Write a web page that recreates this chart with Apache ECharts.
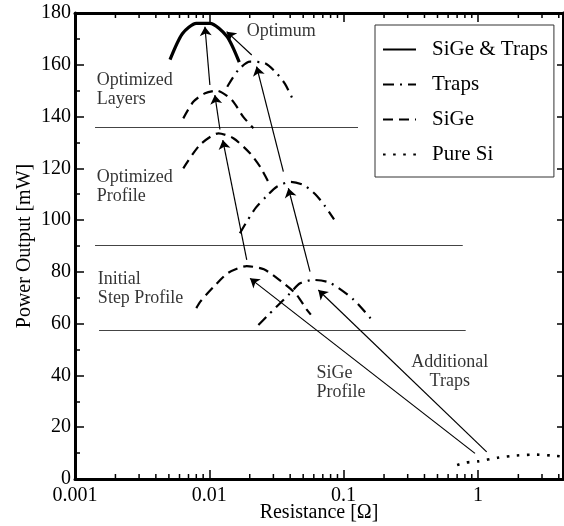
<!DOCTYPE html>
<html>
<head>
<meta charset="utf-8">
<script src="https://cdn.jsdelivr.net/npm/echarts@6/dist/echarts.min.js"></script>
<style>
  html, body { margin: 0; padding: 0; background: #fff; }
  #chart { width: 564px; height: 526px; }
</style>
</head>
<body>
<div id="chart"></div>
<script>
// Resistance in ohms, power output in mW.

// Combined SiGe profile + traps (optimum)
const sigeTrapsR = [0.0051, 0.0063, 0.0080, 0.0101, 0.0135, 0.0167];
const sigeTrapsP = [162, 172, 176, 176, 171, 161];

// Traps only, three design stages
const trapsInitR = [0.0232, 0.0267, 0.0399, 0.0474, 0.0595, 0.079, 0.118, 0.165];
const trapsInitP = [59.5, 62.7, 71.7, 75.6, 76.9, 75.8, 69.4, 61.0];
const trapsProfR = [0.0169, 0.0192, 0.0223, 0.0264, 0.0318, 0.0404, 0.0501, 0.0613, 0.0727, 0.0849];
const trapsProfP = [94.9, 99.8, 104.9, 109.0, 112.9, 114.8, 113.6, 110.1, 105.4, 100.3];
const trapsLayR = [0.0136, 0.01645, 0.0201, 0.0260, 0.0318, 0.0366, 0.0418];
const trapsLayP = [151.5, 158.0, 161.2, 160.6, 156.7, 152.6, 146.7];

// SiGe only, three design stages
const sigeInitR = [0.0080, 0.0086, 0.0108, 0.0138, 0.0190, 0.0255, 0.0345, 0.0441, 0.0530, 0.0570];
const sigeInitP = [66.0, 68.6, 74.3, 79.6, 82.2, 81.0, 76.2, 71.5, 65.5, 63.5];
const sigeProfR = [0.0064, 0.0085, 0.0117, 0.0151, 0.0201, 0.0239, 0.0275];
const sigeProfP = [120.0, 129.0, 133.5, 131.6, 125.8, 120.6, 114.8];
const sigeLayR = [0.0064, 0.0076, 0.0093, 0.01135, 0.0147, 0.0179, 0.0213];
const sigeLayP = [139.3, 145.7, 149.0, 150.0, 146.4, 139.9, 135.5];

// Pure silicon reference
const pureSiR = [0.70, 0.82, 1.00, 1.40, 1.94, 2.74, 3.86, 4.30];
const pureSiP = [5.4, 6.4, 6.8, 8.2, 9.1, 9.4, 8.9, 8.6];

// Stage separators (horizontal rules)
const sepLevel = [135.8, 90.4, 57.6];
const sepFromR = [0.00141, 0.00141, 0.00151];
const sepToR = [0.128, 0.771, 0.811];

// Arrows between design stages: tail -> head
const arrowTailR = [0.0101, 0.0207, 0.0120, 0.0356, 0.0190, 0.0562, 0.951, 1.162];
const arrowTailP = [152.2, 163.8, 135.0, 118.7, 84.6, 80.1, 9.9, 10.5];
const arrowHeadR = [0.00928, 0.01346, 0.0110, 0.0225, 0.0126, 0.0388, 0.0201, 0.0648];
const arrowHeadP = [174.7, 172.8, 148.3, 159.3, 130.9, 112.3, 77.5, 73.0];

// Annotations
const noteText = ['Optimum', 'Optimized\nLayers', 'Optimized\nProfile', 'Initial\nStep Profile', 'SiGe\nProfile', 'Additional\nTraps'];
const noteR = [0.0190, 0.00145, 0.00145, 0.00148, 0.0629, 0.617];
const noteP = [173.0, 150.4, 112.8, 73.6, 37.1, 41.3];
const noteAlign = ['left', 'left', 'left', 'left', 'left', 'center'];

// Axes
const xMin = 0.001, xMax = 4.3;
const yMin = 0, yMax = 180, yStep = 20;
const xMajorTicks = [0.001, 0.01, 0.1, 1];
const xTickLabels = ['0.001', '0.01', '0.1', '1'];
const xMinorTicks = [
  0.002, 0.003, 0.004, 0.005, 0.006, 0.007, 0.008, 0.009,
  0.02, 0.03, 0.04, 0.05, 0.06, 0.07, 0.08, 0.09,
  0.2, 0.3, 0.4, 0.5, 0.6, 0.7, 0.8, 0.9,
  2, 3, 4
];

const FONT = '"Liberation Serif", "Times New Roman", serif';
const zip = (a, b) => a.map((v, i) => [v, b[i]]);

const solid = { color: '#000', width: 3.2, type: 'solid' };
const dashDot = { color: '#000', width: 2.2, type: [11, 6, 2, 6] };
const dashed = { color: '#000', width: 2.2, type: [10, 6] };
const dotted = { color: '#000', width: 2.6, type: [2.6, 7.5] };

function curve(name, r, p, style) {
  return {
    name, type: 'line', data: zip(r, p), symbol: 'none', smooth: 0.25,
    lineStyle: style, itemStyle: { color: '#000' }, z: 3, silent: true
  };
}

const series = [
  curve('SiGe & Traps', sigeTrapsR, sigeTrapsP, solid),
  curve('Traps', trapsInitR, trapsInitP, dashDot),
  curve('Traps', trapsProfR, trapsProfP, dashDot),
  curve('Traps', trapsLayR, trapsLayP, dashDot),
  curve('SiGe', sigeInitR, sigeInitP, dashed),
  curve('SiGe', sigeProfR, sigeProfP, dashed),
  curve('SiGe', sigeLayR, sigeLayP, dashed),
  curve('Pure Si', pureSiR, pureSiP, dotted),
  {
    name: 'separators', type: 'lines', coordinateSystem: 'cartesian2d',
    data: sepLevel.map((y, i) => ({ coords: [[sepFromR[i], y], [sepToR[i], y]] })),
    lineStyle: { color: '#444', width: 1, opacity: 1 }, symbol: 'none', silent: true, z: 2
  },
  {
    name: 'arrows', type: 'lines', coordinateSystem: 'cartesian2d',
    data: arrowTailR.map((r, i) => ({ coords: [[r, arrowTailP[i]], [arrowHeadR[i], arrowHeadP[i]]] })),
    lineStyle: { color: '#000', width: 1.2, opacity: 1 },
    symbol: ['none', 'arrow'], symbolSize: [0, 9], silent: true, z: 4
  },
  {
    name: 'notes', type: 'scatter', symbolSize: 1, silent: true,
    itemStyle: { color: 'transparent' },
    data: noteText.map((t, i) => ({
      name: t, value: [noteR[i], noteP[i]],
      label: { align: noteAlign[i] }
    })),
    label: {
      show: true, position: 'inside', formatter: '{b}', verticalAlign: 'middle',
      fontFamily: FONT, fontSize: 18, lineHeight: 19, color: '#000'
    },
    z: 5
  },
  {
    name: 'minorTicks', type: 'custom', silent: true, clip: false,
    data: xMinorTicks.map(v => [v, yMin]),
    renderItem(params, api) {
      const v = api.value(0);
      const b = api.coord([v, yMin]);
      const t = api.coord([v, yMax]);
      const st = { stroke: '#000', lineWidth: 1.5 };
      return {
        type: 'group', children: [
          { type: 'line', shape: { x1: b[0], y1: b[1], x2: b[0], y2: b[1] - 5 }, style: st },
          { type: 'line', shape: { x1: t[0], y1: t[1], x2: t[0], y2: t[1] + 5 }, style: st }
        ]
      };
    },
    z: 6
  }
];

const axisLine = { show: true, onZero: false, lineStyle: { color: '#000', width: 3 } };
const xLabel = v => {
  const i = xMajorTicks.findIndex(t => Math.abs(Math.log10(t) - Math.log10(v)) < 1e-6);
  return i >= 0 ? xTickLabels[i] : '';
};

const option = {
  animation: false,
  backgroundColor: '#fff',
  grid: { left: 75, right: 1, top: 13, bottom: 47, containLabel: false, outerBoundsMode: 'none' },
  xAxis: [
    {
      type: 'log', logBase: 10, min: xMin, max: xMax, position: 'bottom',
      axisLine, splitLine: { show: false },
      axisTick: { inside: true, length: 9, lineStyle: { color: '#000', width: 1.5 } },
      axisLabel: { formatter: xLabel, fontFamily: FONT, fontSize: 20, color: '#000', margin: 7 },
      name: 'Resistance [Ω]', nameLocation: 'middle', nameGap: 24, nameMoveOverlap: false,
      nameTextStyle: { fontFamily: FONT, fontSize: 20, color: '#000' }
    },
    {
      type: 'log', logBase: 10, min: xMin, max: xMax, position: 'top',
      axisLine, splitLine: { show: false },
      axisTick: { inside: true, length: 9, lineStyle: { color: '#000', width: 1.5 } },
      axisLabel: { show: false }
    }
  ],
  yAxis: [
    {
      type: 'value', min: yMin, max: yMax, interval: yStep, position: 'left',
      axisLine, splitLine: { show: false },
      axisTick: { inside: true, length: 9, lineStyle: { color: '#000', width: 1.5 } },
      minorTick: { show: true, splitNumber: 2, length: 5, lineStyle: { color: '#000', width: 1.5 } },
      axisLabel: { fontFamily: FONT, fontSize: 20, color: '#000', margin: 4 },
      name: 'Power Output [mW]', nameLocation: 'middle', nameRotate: 90, nameGap: 40, nameMoveOverlap: false,
      nameTextStyle: { fontFamily: FONT, fontSize: 20, color: '#000' }
    },
    {
      type: 'value', min: yMin, max: yMax, interval: yStep, position: 'right',
      axisLine, splitLine: { show: false },
      axisTick: { inside: true, length: 6, lineStyle: { color: '#000', width: 1.5 } },
      axisLabel: { show: false }
    }
  ],
  legend: {
    data: ['SiGe & Traps', 'Traps', 'SiGe', 'Pure Si'],
    orient: 'vertical', left: 375, top: 25,
    padding: [14, 6, 12, 7], itemGap: 14, itemWidth: 33, itemHeight: 14,
    backgroundColor: '#fff', borderColor: '#333', borderWidth: 1,
    selectedMode: false,
    itemStyle: { opacity: 0 },
    textStyle: { fontFamily: FONT, fontSize: 21, color: '#000', padding: [0, 0, 0, 11] }
  },
  series
};

const chart = echarts.init(document.getElementById('chart'), null, { renderer: 'canvas' });
chart.setOption(option);
</script>
</body>
</html>
